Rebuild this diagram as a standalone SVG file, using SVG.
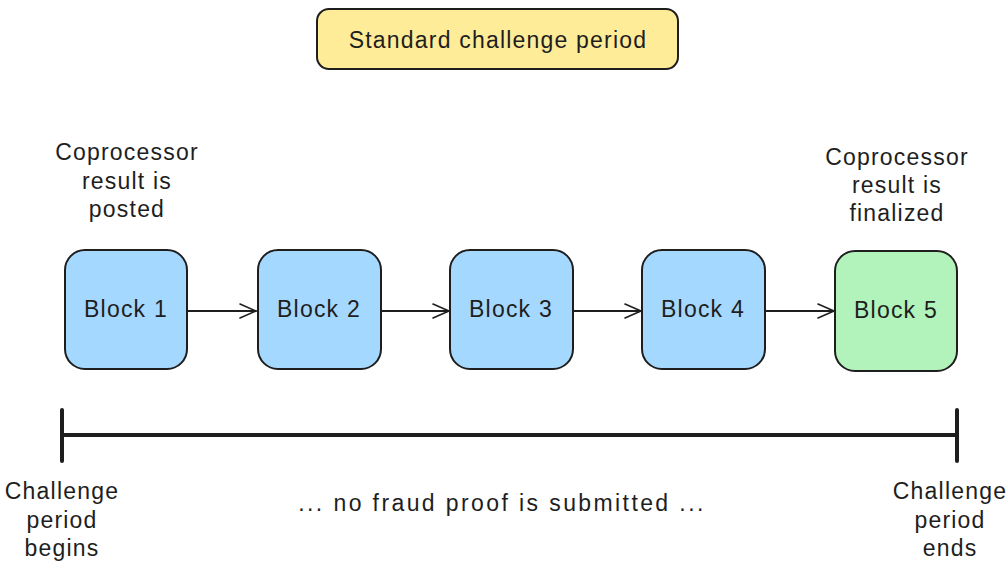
<svg xmlns="http://www.w3.org/2000/svg" width="1008" height="567" viewBox="0 0 1008 567">
  <defs>
    <marker id="chev" viewBox="0 0 20 20" refX="18" refY="10" markerWidth="20" markerHeight="20" markerUnits="userSpaceOnUse" orient="auto">
      <path d="M2 3 L18 10 L2 17" fill="none" stroke="#1e1e1e" stroke-width="1.6" stroke-linecap="round" stroke-linejoin="round"/>
    </marker>
  </defs>
  <style>
    .lbl { font-family: "Liberation Sans", Arial, sans-serif; font-size: 23px; letter-spacing: 1.2px; fill: #1e1e1e; text-anchor: middle; }
    .wide { letter-spacing: 2.4px; }
    .box { stroke: #1e1e1e; stroke-width: 2; }
    .blue { fill: #a5d8ff; }
    .green { fill: #b2f2bb; }
    .title { fill: #ffec99; }
    .edge { fill: none; stroke: #1e1e1e; stroke-width: 1.8; stroke-linecap: round; }
    .axis { fill: none; stroke: #1e1e1e; stroke-width: 4; stroke-linecap: round; }
  </style>
  <rect width="1008" height="567" fill="#ffffff"/>

  <g id="title">
    <rect class="box title" x="317" y="9" width="361" height="60" rx="12"/>
    <text class="lbl" x="498" y="48">Standard challenge period</text>
  </g>

  <g id="note-posted">
    <text class="lbl" x="127" y="160">Coprocessor</text>
    <text class="lbl" x="127" y="189">result is</text>
    <text class="lbl" x="127" y="217">posted</text>
  </g>

  <g id="note-finalized">
    <text class="lbl" x="897" y="165">Coprocessor</text>
    <text class="lbl" x="897" y="193">result is</text>
    <text class="lbl" x="897" y="221">finalized</text>
  </g>

  <g id="block1">
    <rect class="box blue" x="65" y="250" width="122" height="119" rx="20"/>
    <text class="lbl" x="126" y="317">Block 1</text>
  </g>
  <g id="block2">
    <rect class="box blue" x="258" y="250" width="123" height="119" rx="20"/>
    <text class="lbl" x="319" y="317">Block 2</text>
  </g>
  <g id="block3">
    <rect class="box blue" x="450" y="250" width="123" height="119" rx="20"/>
    <text class="lbl" x="511" y="317">Block 3</text>
  </g>
  <g id="block4">
    <rect class="box blue" x="642" y="250" width="123" height="119" rx="20"/>
    <text class="lbl" x="703" y="317">Block 4</text>
  </g>
  <g id="block5">
    <rect class="box green" x="835" y="251" width="122" height="120" rx="20"/>
    <text class="lbl" x="896" y="318">Block 5</text>
  </g>

  <g id="connectors">
    <path class="edge" d="M188 311 L256 311" marker-end="url(#chev)"/>
    <path class="edge" d="M381 311 L449 311" marker-end="url(#chev)"/>
    <path class="edge" d="M573 311 L641 311" marker-end="url(#chev)"/>
    <path class="edge" d="M766 311 L834 311" marker-end="url(#chev)"/>
  </g>

  <g id="timeline">
    <path class="axis" d="M63 435 L957 435"/>
    <path class="axis" d="M62 410 L62 461"/>
    <path class="axis" d="M957 410 L957 461"/>
  </g>

  <g id="label-begins">
    <text class="lbl" x="62" y="499">Challenge</text>
    <text class="lbl" x="62" y="528">period</text>
    <text class="lbl" x="62" y="556">begins</text>
  </g>

  <g id="label-middle">
    <text class="lbl wide" x="502" y="511">... no fraud proof is submitted ...</text>
  </g>

  <g id="label-ends">
    <text class="lbl" x="950" y="499">Challenge</text>
    <text class="lbl" x="950" y="528">period</text>
    <text class="lbl" x="950" y="556">ends</text>
  </g>
</svg>
